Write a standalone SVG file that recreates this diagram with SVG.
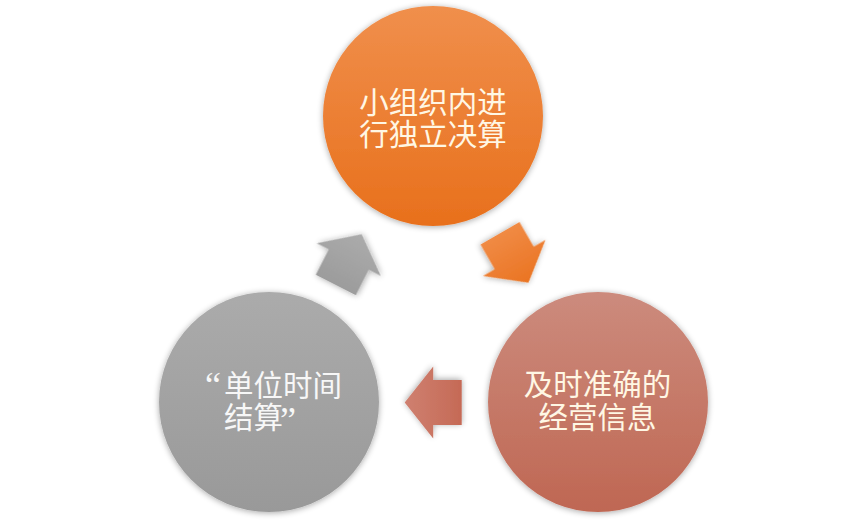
<svg xmlns="http://www.w3.org/2000/svg" width="865" height="525" viewBox="0 0 865 525">
  <defs>
    <linearGradient id="gOrange" x1="0" y1="0" x2="0" y2="1">
      <stop offset="0" stop-color="#f08f4c"/>
      <stop offset="1" stop-color="#e8701c"/>
    </linearGradient>
    <linearGradient id="gSalmon" x1="0" y1="0" x2="0" y2="1">
      <stop offset="0" stop-color="#cc8b7d"/>
      <stop offset="1" stop-color="#bf6753"/>
    </linearGradient>
    <linearGradient id="gGray" x1="0" y1="0" x2="0" y2="1">
      <stop offset="0" stop-color="#ababab"/>
      <stop offset="1" stop-color="#999999"/>
    </linearGradient>
    <linearGradient id="gArrowOrange" x1="0" y1="0" x2="1" y2="0">
      <stop offset="0" stop-color="#f08a44"/>
      <stop offset="1" stop-color="#ea7422"/>
    </linearGradient>
    <linearGradient id="gArrowSalmon" x1="0" y1="0" x2="1" y2="0">
      <stop offset="0" stop-color="#c56a56"/>
      <stop offset="1" stop-color="#cf8070"/>
    </linearGradient>
    <linearGradient id="gArrowGray" x1="0" y1="0" x2="1" y2="0">
      <stop offset="0" stop-color="#9c9c9c"/>
      <stop offset="1" stop-color="#ababab"/>
    </linearGradient>
    <filter id="soft" x="-20%" y="-20%" width="140%" height="140%">
      <feGaussianBlur in="SourceAlpha" stdDeviation="3"/>
      <feOffset dx="0" dy="1" result="b"/>
      <feComponentTransfer><feFuncA type="linear" slope="0.35"/></feComponentTransfer>
      <feMerge><feMergeNode/><feMergeNode in="SourceGraphic"/></feMerge>
    </filter>
    <path id="arrow" d="M0,-22.5 L28.5,-22.5 L28.5,-36 L57,0 L28.5,36 L28.5,22.5 L0,22.5 Z"/>
  </defs>
  <style>
    .lbl { font-family: "Noto Sans CJK SC", "Noto Sans", sans-serif; font-size: 29.5px; }
    .q { font-family: "Liberation Serif", "Noto Sans CJK SC", serif; font-size: 36px; }
    .cream { fill: #fff7e4; }
    .white { fill: #f7f7f7; }
  </style>
  <rect width="865" height="525" fill="#ffffff"/>

  <g id="connectors">
    <use href="#arrow" fill="url(#gArrowOrange)" filter="url(#soft)" transform="translate(500,233.3) rotate(60)"/>
    <use href="#arrow" fill="url(#gArrowSalmon)" filter="url(#soft)" transform="translate(461.7,402.5) rotate(180)"/>
    <use href="#arrow" fill="url(#gArrowGray)" filter="url(#soft)" transform="translate(335.8,285) rotate(-63)"/>
  </g>

  <g id="node-top">
    <circle cx="433" cy="116" r="110" fill="url(#gOrange)" filter="url(#soft)"/>
    <text class="lbl cream" text-anchor="middle"><tspan x="433" y="113">小组织内进</tspan><tspan x="433" y="145">行独立决算</tspan></text>
  </g>

  <g id="node-right">
    <circle cx="598" cy="402" r="110" fill="url(#gSalmon)" filter="url(#soft)"/>
    <text class="lbl cream" text-anchor="middle"><tspan x="597.5" y="394.5">及时准确的</tspan><tspan x="597.5" y="428">经营信息</tspan></text>
  </g>

  <g id="node-left">
    <circle cx="269" cy="402" r="110" fill="url(#gGray)" filter="url(#soft)"/>
    <text class="lbl white"><tspan class="q" x="205" y="397">“</tspan><tspan x="224" y="396">单位时间</tspan><tspan x="224" y="428">结算</tspan><tspan class="q" x="280" y="432">”</tspan></text>
  </g>
</svg>
